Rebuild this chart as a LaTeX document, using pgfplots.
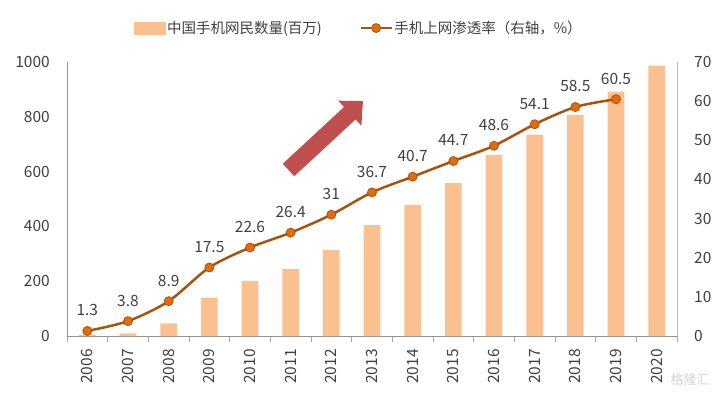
\documentclass[border=0pt]{standalone}
\usepackage{pgfplots}
\pgfplotsset{compat=1.18}
\usepackage{fontspec}
\setmainfont{Noto Sans CJK SC}
\usetikzlibrary{arrows.meta}
\definecolor{barc}{RGB}{250,192,144}
\definecolor{linec}{RGB}{166,84,15}
\definecolor{markc}{RGB}{228,108,10}
\definecolor{txt}{RGB}{64,64,64}
\definecolor{arrowc}{RGB}{192,80,77}
\newcommand\f{\fontsize{14.5bp}{17bp}\selectfont}
\newcommand\fn{\fontsize{15.5bp}{18bp}\selectfont}
\begin{document}
\begin{tikzpicture}
\useasboundingbox (-67bp,-60bp) rectangle (655bp,336bp);
\begin{axis}[
  at={(0,0)}, anchor=south west,
  width=610bp, height=274bp, scale only axis,
  xmin=-0.5, xmax=14.5, ymin=0, ymax=1000,
  axis x line*=bottom, axis y line*=left,
  axis line style={-, draw=gray!85, line width=0.8bp},
  ytick={0,200,...,1000},
  xtick={0,...,14},
  xticklabels={2006,2007,2008,2009,2010,2011,2012,2013,2014,2015,2016,2017,2018,2019,2020},
  minor xtick={-0.5,0.5,...,14.5},
  major tick length=0pt, minor tick length=6bp, tick align=outside,
  minor tick style={draw=gray!70, line width=0.8bp},
  scaled y ticks=false,
  /pgf/number format/assume math mode=true,
  /pgf/number format/1000 sep={},
  ticklabel style={font=\fn, text=txt, inner sep=0pt},
  xticklabel style={rotate=90, anchor=east},
  xticklabel shift=13bp,
  yticklabel shift=17bp,
  ybar, bar width=0.41,
]
\addplot[fill=barc, draw=none] coordinates {
  (0,5) (1,10) (2,46) (3,140) (4,201) (5,244) (6,313) (7,405)
  (8,479) (9,558) (10,661) (11,735) (12,807) (13,892) (14,987)};
\end{axis}
\begin{axis}[
  at={(0,0)}, anchor=south west,
  width=610bp, height=274bp, scale only axis,
  xmin=-0.5, xmax=14.5, ymin=0, ymax=70,
  axis x line=none, axis y line*=right,
  axis line style={-, draw=gray!55, line width=0.8bp},
  ytick={0,10,...,70},
  major tick length=0pt,
  /pgf/number format/assume math mode=true,
  ticklabel style={font=\fn, text=txt, inner sep=0pt},
  yticklabel shift=17bp,
  legend style={draw=none, fill=none, at={(0.1098,1.124)}, anchor=west,
    font=\f, text=txt, inner sep=0pt,
    nodes={inner sep=1.5bp},
    /tikz/every even column/.append style={column sep=36bp}},
  legend columns=2, legend cell align=left,
]
\addlegendimage{legend image code/.code={\fill[barc] (0bp,-6bp) rectangle (31bp,6bp);}}
\addlegendentry{中国手机网民数量(百万)}
\addlegendimage{legend image code/.code={
  \draw[linec, line width=2.5bp] (0bp,0bp) -- (31bp,0bp);
  \fill[markc, draw=linec, line width=0.8bp] (15.5bp,0bp) circle (4.5bp);}}
\addlegendentry{手机上网渗透率（右轴，\%）}
\addplot[forget plot, smooth, color=linec, line width=2.5bp,
  mark=*, mark size=4.5bp, mark options={fill=markc, draw=linec, line width=0.8bp},
  nodes near coords, point meta=explicit symbolic,
  every node near coord/.append style={font=\fn, text=txt, anchor=south, inner sep=0pt, yshift=14.5bp}]
coordinates {
  (0,1.3)[1.3] (1,3.8)[3.8] (2,8.9)[8.9] (3,17.5)[17.5] (4,22.6)[22.6]
  (5,26.4)[26.4] (6,31)[31] (7,36.7)[36.7] (8,40.7)[40.7] (9,44.7)[44.7]
  (10,48.6)[48.6] (11,54.1)[54.1] (12,58.5)[58.5] (13,60.5)[60.5]};
\end{axis}
\draw[arrowc, line width=17bp, -{Triangle[width=33bp,length=18bp]}] (221.5bp,166bp) -- (296bp,235bp);
\node[text=gray!35, font=\fontsize{13bp}{15bp}\selectfont, anchor=center] at (623bp,-44bp) {格隆汇};
\end{tikzpicture}
\end{document}
